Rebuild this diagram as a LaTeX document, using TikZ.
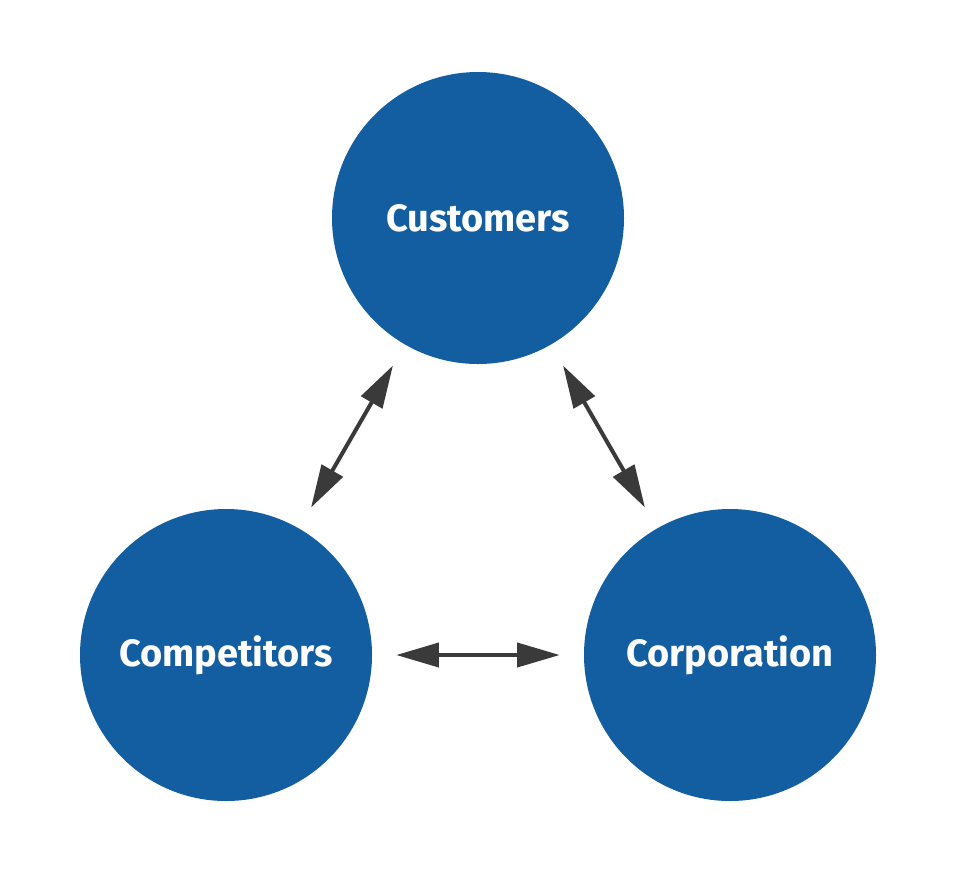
\documentclass[tikz,border=0pt]{standalone}
\usepackage{fontspec}
\setmainfont{Fira Sans}
\usetikzlibrary{arrows.meta}
\definecolor{partyblue}{HTML}{135EA0}
\definecolor{linkgray}{HTML}{3A3A3A}
\begin{document}
\begin{tikzpicture}[x=0.75pt,y=-0.75pt,
  party/.style={circle,fill=partyblue,text=white,minimum size=219pt,inner sep=0pt,
    font=\fontsize{28.5}{32}\selectfont\bfseries},
  link/.style={draw=linkgray,line width=3pt,{Triangle[length=32pt,width=18pt]}-{Triangle[length=32pt,width=18pt]},
    shorten <=18pt,shorten >=18pt}]
\useasboundingbox (0,0) rectangle (960,876);
\node[party] (cust) at (478,218) {Customers};
\node[party] (comp) at (226,655) {Competitors};
\node[party] (corp) at (730,655) {Corporation};
\draw[link] (cust) -- (comp);
\draw[link] (cust) -- (corp);
\draw[link] (comp) -- (corp);
\end{tikzpicture}
\end{document}
